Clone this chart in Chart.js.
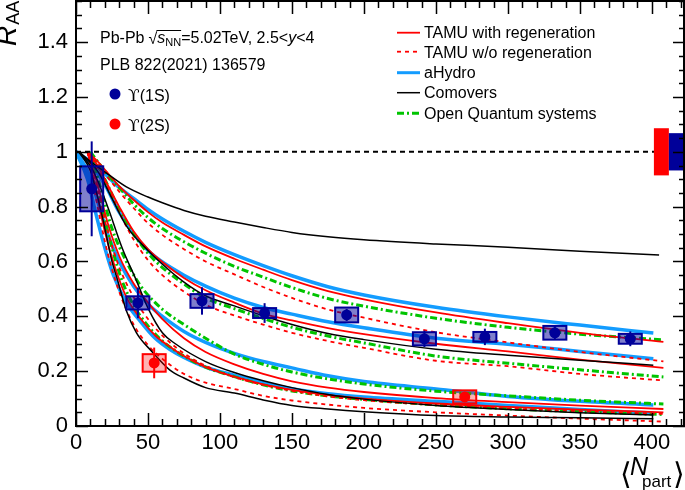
<!DOCTYPE html>
<html><head><meta charset="utf-8">
<script src="https://cdn.jsdelivr.net/npm/chart.js@4.4.0/dist/chart.umd.min.js"></script>
<style>html,body{margin:0;padding:0;background:#fff;}#c{display:block;}</style>
</head><body>
<canvas id="c" width="685" height="490"></canvas>
<script>
// ---------- measured data ----------
const npart1S = [10.9, 43, 87.5, 131, 188, 242, 284, 332.6, 385];
const raa1S   = [0.865, 0.449, 0.456, 0.412, 0.405, 0.318, 0.325, 0.340, 0.318];
const stat1S  = [0.173, 0.056, 0.050, 0.036, 0.022, 0.030, 0.030, 0.025, 0.027];
const syst1S  = [0.082, 0.024, 0.025, 0.018, 0.027, 0.024, 0.018, 0.025, 0.018];
const npart2S = [54.3, 270];
const raa2S   = [0.230, 0.106];
const stat2S  = [0.056, 0.015];
const syst2S  = [0.032, 0.024];
const globalUnc1S = 0.068;
const globalUnc2S = 0.086;

const xTickLabels = [0, 50, 100, 150, 200, 250, 300, 350, 400];
const yTickLabels = [0, 0.2, 0.4, 0.6, 0.8, 1, 1.2, 1.4];

// ---------- model curves [Npart, RAA] ----------
// TAMU with regeneration
const tamuReg1S_hi = [[8,1.0],[15,0.965],[20,0.935],[30,0.875],[40,0.825],[50,0.78],[60,0.742],[75,0.697],[90,0.655],[110,0.61],[130,0.57],[150,0.532],[175,0.492],[200,0.462],[250,0.414],[300,0.375],[350,0.34],[408,0.307]];
const tamuReg1S_lo = [[8,1.0],[15,0.95],[20,0.9],[30,0.8],[40,0.71],[50,0.645],[60,0.598],[75,0.54],[90,0.495],[110,0.45],[130,0.41],[150,0.385],[175,0.357],[200,0.335],[250,0.3],[300,0.272],[350,0.242],[408,0.212]];
const tamuReg2S_hi = [[8,1.0],[15,0.88],[22,0.74],[30,0.62],[40,0.52],[50,0.45],[60,0.39],[75,0.32],[90,0.27],[110,0.225],[130,0.19],[150,0.163],[175,0.14],[200,0.124],[250,0.102],[300,0.087],[350,0.074],[408,0.062]];
const tamuReg2S_lo = [[8,1.0],[14,0.86],[20,0.71],[27,0.58],[35,0.47],[45,0.39],[55,0.33],[65,0.29],[75,0.255],[90,0.215],[110,0.18],[130,0.152],[150,0.132],[175,0.113],[200,0.1],[250,0.082],[300,0.07],[350,0.06],[408,0.05]];
// TAMU without regeneration
const tamuNoReg1S_hi = [[8,1.0],[20,0.92],[30,0.855],[40,0.795],[50,0.74],[60,0.697],[75,0.645],[90,0.6],[110,0.553],[130,0.507],[150,0.467],[175,0.425],[200,0.395],[250,0.342],[300,0.305],[350,0.27],[408,0.236]];
const tamuNoReg1S_lo = [[8,1.0],[20,0.89],[30,0.78],[40,0.68],[50,0.605],[60,0.55],[75,0.49],[90,0.442],[110,0.403],[130,0.37],[150,0.34],[175,0.31],[200,0.285],[250,0.238],[300,0.218],[350,0.19],[408,0.166]];
const tamuNoReg2S_hi = [[8,1.0],[15,0.86],[22,0.71],[30,0.58],[40,0.47],[50,0.39],[60,0.33],[75,0.265],[90,0.22],[110,0.178],[130,0.15],[150,0.128],[175,0.108],[200,0.094],[250,0.076],[300,0.064],[350,0.054],[408,0.044]];
const tamuNoReg2S_lo = [[8,1.0],[15,0.8],[22,0.63],[30,0.49],[40,0.37],[50,0.295],[60,0.245],[75,0.19],[90,0.158],[110,0.135],[130,0.11],[150,0.093],[175,0.078],[200,0.066],[250,0.05],[300,0.038],[350,0.027],[408,0.016]];
// aHydro
const aHydro1S_hi = [[0,1.0],[10,0.965],[20,0.92],[30,0.87],[40,0.83],[50,0.79],[60,0.755],[75,0.71],[90,0.67],[110,0.625],[130,0.585],[150,0.548],[175,0.508],[200,0.478],[250,0.433],[300,0.398],[350,0.368],[401,0.339]];
const aHydro1S_lo = [[0,1.0],[10,0.955],[20,0.88],[30,0.78],[40,0.7],[50,0.64],[60,0.598],[75,0.55],[90,0.51],[110,0.466],[130,0.432],[150,0.408],[175,0.38],[200,0.358],[250,0.32],[300,0.298],[350,0.272],[401,0.245]];
const aHydro2S_hi = [[0,1.0],[8,0.93],[15,0.82],[22,0.7],[30,0.6],[40,0.51],[50,0.445],[60,0.4],[75,0.345],[90,0.305],[110,0.265],[130,0.235],[150,0.212],[175,0.183],[200,0.162],[250,0.135],[300,0.108],[350,0.09],[401,0.077]];
const aHydro2S_lo = [[0,1.0],[8,0.9],[14,0.77],[20,0.65],[26,0.55],[35,0.45],[45,0.38],[55,0.32],[65,0.28],[75,0.25],[90,0.215],[110,0.185],[130,0.158],[150,0.136],[175,0.118],[200,0.106],[250,0.09],[300,0.075],[350,0.06],[401,0.047]];
// Comovers
const comov1S_hi = [[2,1.0],[10,0.965],[20,0.927],[35,0.872],[50,0.835],[60,0.814],[75,0.786],[90,0.765],[110,0.744],[130,0.724],[150,0.706],[175,0.69],[200,0.679],[250,0.664],[300,0.652],[350,0.637],[405,0.624]];
const comov1S_lo = [[2,1.0],[15,0.93],[25,0.83],[35,0.73],[50,0.64],[60,0.59],[75,0.525],[90,0.475],[110,0.438],[130,0.402],[150,0.37],[175,0.337],[200,0.315],[250,0.28],[300,0.258],[350,0.24],[401,0.222]];
const comov2S_hi = [[2,1.0],[12,0.93],[22,0.8],[32,0.65],[42,0.53],[50,0.43],[60,0.34],[69,0.3],[90,0.235],[110,0.195],[130,0.165],[150,0.14],[175,0.115],[200,0.098],[250,0.075],[300,0.06],[350,0.048],[401,0.04]];
const comov2S_lo = [[2,1.0],[10,0.93],[18,0.77],[25,0.6],[29,0.53],[35,0.42],[42,0.34],[53,0.27],[65,0.205],[75,0.175],[90,0.14],[110,0.12],[130,0.095],[150,0.075],[175,0.062],[200,0.052],[250,0.038],[300,0.033],[350,0.03],[401,0.026]];
// Open Quantum systems
const oqs1S_hi = [[10,1.0],[20,0.93],[30,0.87],[40,0.81],[50,0.76],[60,0.72],[75,0.672],[90,0.63],[110,0.582],[130,0.543],[150,0.505],[175,0.465],[200,0.437],[250,0.393],[300,0.36],[350,0.335],[408,0.314]];
const oqs1S_lo = [[10,1.0],[20,0.9],[30,0.79],[40,0.7],[50,0.63],[60,0.578],[75,0.518],[90,0.467],[110,0.428],[130,0.392],[150,0.36],[175,0.328],[200,0.303],[250,0.255],[300,0.229],[350,0.205],[408,0.179]];
const oqs2S_hi = [[10,1.0],[18,0.85],[25,0.72],[35,0.6],[45,0.51],[55,0.45],[65,0.405],[75,0.37],[90,0.32],[110,0.262],[130,0.225],[150,0.197],[175,0.172],[200,0.153],[250,0.127],[300,0.11],[350,0.094],[408,0.08]];
const oqs2S_lo = [[10,1.0],[18,0.8],[25,0.65],[32,0.53],[40,0.44],[50,0.365],[60,0.31],[75,0.255],[90,0.215],[110,0.18],[130,0.15],[150,0.128],[175,0.11],[200,0.097],[250,0.077],[300,0.063],[350,0.052],[408,0.042]];

const unityLine = [[0,1],[423,1]];

// ---------- styles ----------
const FONT = '"Liberation Sans", Arial, Helvetica, sans-serif';
const RED = '#ff0000', BLUE = '#139cff', BLACK = '#000000', GREEN = '#00c400', DKBLUE = '#000099';
const styles = {
  tamuReg:   {color: RED,   width: 1.8, dash: [], order: 2},
  tamuNoReg: {color: RED,   width: 1.8, dash: [4, 4], order: 3},
  aHydro:    {color: BLUE,  width: 3.5, dash: [], order: 6},
  comov:     {color: BLACK, width: 1.5, dash: [], order: 1},
  oqs:       {color: GREEN, width: 3,   dash: [7, 3, 2, 3], order: 4},
};
function ds(arr, st){
  return {data: arr.map(p => ({x: p[0], y: p[1]})), showLine: true, pointRadius: 0,
    borderColor: st.color, borderWidth: st.width, borderDash: st.dash,
    cubicInterpolationMode: 'monotone', order: st.order, fill: false};
}
const datasets = [
  ds(tamuReg1S_hi, styles.tamuReg), ds(tamuReg1S_lo, styles.tamuReg), ds(tamuReg2S_hi, styles.tamuReg), ds(tamuReg2S_lo, styles.tamuReg),
  ds(tamuNoReg1S_hi, styles.tamuNoReg), ds(tamuNoReg1S_lo, styles.tamuNoReg), ds(tamuNoReg2S_hi, styles.tamuNoReg), ds(tamuNoReg2S_lo, styles.tamuNoReg),
  ds(aHydro1S_hi, styles.aHydro), ds(aHydro1S_lo, styles.aHydro), ds(aHydro2S_hi, styles.aHydro), ds(aHydro2S_lo, styles.aHydro),
  ds(comov1S_hi, styles.comov), ds(comov1S_lo, styles.comov), ds(comov2S_hi, styles.comov), ds(comov2S_lo, styles.comov),
  ds(oqs1S_hi, styles.oqs), ds(oqs1S_lo, styles.oqs), ds(oqs2S_hi, styles.oqs), ds(oqs2S_lo, styles.oqs),
  Object.assign(ds(unityLine, {color: BLACK, width: 2, dash: [5, 4], order: 0}), {cubicInterpolationMode: 'default', tension: 0}),
];

// ---------- plugin: data points, frame, ticks, texts ----------
const decor = {
  id: 'decor',
  afterDatasetsDraw(chart){
    const ctx = chart.ctx, xs = chart.scales.x, ys = chart.scales.y;
    const X = v => xs.getPixelForValue(v), Y = v => ys.getPixelForValue(v);
    ctx.save();
    ctx.fillStyle = RED;
    ctx.fillRect(X(401.4), Y(1 + globalUnc2S), X(411.8) - X(401.4), Y(1 - globalUnc2S) - Y(1 + globalUnc2S));
    ctx.fillStyle = DKBLUE;
    ctx.fillRect(X(411.8), Y(1 + globalUnc1S), X(422) - X(411.8), Y(1 - globalUnc1S) - Y(1 + globalUnc1S));
    function drawSet(nx, ry, st, sy, col, fillCol){
      for (let i = 0; i < nx.length; i++){
        const x0 = X(nx[i] - 8), x1 = X(nx[i] + 8);
        const y0 = Y(ry[i] + sy[i]), y1 = Y(ry[i] - sy[i]);
        ctx.fillStyle = fillCol; ctx.fillRect(x0, y0, x1 - x0, y1 - y0);
        ctx.strokeStyle = col; ctx.lineWidth = 2; ctx.setLineDash([]);
        ctx.strokeRect(x0, y0, x1 - x0, y1 - y0);
        ctx.beginPath(); ctx.moveTo(X(nx[i]), Y(ry[i] + st[i])); ctx.lineTo(X(nx[i]), Y(ry[i] - st[i])); ctx.stroke();
        ctx.fillStyle = col; ctx.beginPath(); ctx.arc(X(nx[i]), Y(ry[i]), 5.5, 0, 2 * Math.PI); ctx.fill();
      }
    }
    drawSet(npart1S, raa1S, stat1S, syst1S, DKBLUE, 'rgba(0,0,153,0.5)');
    drawSet(npart2S, raa2S, stat2S, syst2S, RED, 'rgba(255,0,0,0.3)');
    ctx.restore();
  },
  afterDraw(chart){
    const ctx = chart.ctx, xs = chart.scales.x, ys = chart.scales.y, a = chart.chartArea;
    const X = v => xs.getPixelForValue(v), Y = v => ys.getPixelForValue(v);
    ctx.save();
    ctx.strokeStyle = '#000'; ctx.lineWidth = 2; ctx.setLineDash([]);
    ctx.strokeRect(a.left, a.top, a.right - a.left - 1, a.bottom - a.top);
    ctx.lineWidth = 1.5;
    ctx.beginPath();
    for (let k = 0; k <= 31; k++){
      const v = k * 0.05; if (v > 1.55) break;
      const L = (k % 4 === 0) ? 12 : 6, py = Math.round(Y(v)) + 0.5;
      ctx.moveTo(a.left, py); ctx.lineTo(a.left + L, py);
      ctx.moveTo(a.right, py); ctx.lineTo(a.right - L, py);
    }
    for (let k = 0; k <= 42; k++){
      const v = k * 10; const L = (k % 5 === 0) ? 13 : 7, px = Math.round(X(v)) + 0.5;
      ctx.moveTo(px, a.bottom); ctx.lineTo(px, a.bottom - L);
      ctx.moveTo(px, a.top); ctx.lineTo(px, a.top + L);
    }
    ctx.stroke();

    ctx.fillStyle = '#000'; ctx.textBaseline = 'alphabetic'; ctx.textAlign = 'left';
    ctx.save(); ctx.translate(16, 46); ctx.rotate(-Math.PI / 2);
    ctx.font = 'italic 28px ' + FONT; ctx.fillText('R', 0, 0);
    const rw = ctx.measureText('R').width;
    ctx.font = '18px ' + FONT; ctx.fillText('AA', rw + 1, 3);
    ctx.restore();
    ctx.font = '30px "DejaVu Sans"'; ctx.fillText('\u27E8', 620, 484);
    ctx.font = 'italic 25px ' + FONT; ctx.fillText('N', 630, 475);
    ctx.font = '17px ' + FONT; ctx.fillText('part', 642, 487);
    ctx.font = '30px "DejaVu Sans"'; ctx.fillText('\u27E9', 673, 484);

    let x = 100, b = 43;
    ctx.font = '16px ' + FONT; ctx.fillText('Pb-Pb', x, b); x += ctx.measureText('Pb-Pb').width + 4;
    ctx.fillText('\u221A', x, b + 1); const sqx = x; x += ctx.measureText('\u221A').width;
    ctx.font = 'italic 16px ' + FONT; ctx.fillText('s', x, b); x += ctx.measureText('s').width;
    ctx.font = '11px ' + FONT; ctx.fillText('NN', x, b + 3); x += ctx.measureText('NN').width;
    ctx.lineWidth = 1; ctx.beginPath(); ctx.moveTo(sqx + 8, 30.5); ctx.lineTo(x, 30.5); ctx.stroke();
    ctx.font = '16px ' + FONT; ctx.fillText('=5.02TeV, 2.5<', x, b); x += ctx.measureText('=5.02TeV, 2.5<').width;
    ctx.font = 'italic 16px ' + FONT; ctx.fillText('y', x, b); x += ctx.measureText('y').width;
    ctx.font = '16px ' + FONT; ctx.fillText('<4', x, b);
    ctx.fillText('PLB 822(2021) 136579', 100, 70);
    const ml = [[DKBLUE, 94, 101, '(1S)'], [RED, 124, 131, '(2S)']];
    ml.forEach(m => {
      ctx.fillStyle = m[0]; ctx.beginPath(); ctx.arc(115, m[1], 5.5, 0, 2 * Math.PI); ctx.fill();
      ctx.fillStyle = '#000';
      ctx.font = '17px "DejaVu Serif"'; ctx.fillText('\u03D2', 128, m[2]);
      const w = ctx.measureText('\u03D2').width;
      ctx.font = '16px ' + FONT; ctx.fillText(m[3], 128 + w, m[2]);
    });
    const leg = [
      [styles.tamuReg, 'TAMU with regeneration', 32.7, 38],
      [styles.tamuNoReg, 'TAMU w/o regeneration', 51.7, 57.5],
      [styles.aHydro, 'aHydro', 72.7, 78],
      [styles.comov, 'Comovers', 92.7, 98],
      [styles.oqs, 'Open Quantum systems', 113.3, 118.5],
    ];
    leg.forEach(l => {
      const st = l[0];
      ctx.strokeStyle = st.color; ctx.lineWidth = Math.min(st.width, 3); ctx.setLineDash(st.dash);
      ctx.beginPath(); ctx.moveTo(397, l[2]); ctx.lineTo(420, l[2]); ctx.stroke();
      ctx.setLineDash([]);
      ctx.fillStyle = '#000'; ctx.font = '16px ' + FONT; ctx.fillText(l[1], 424, l[3]);
    });
    ctx.restore();
  }
};

function fmt(v){ return String(Math.round(v * 10) / 10); }

new Chart(document.getElementById('c'), {
  type: 'scatter',
  data: {datasets},
  options: {
    responsive: false, animation: false, devicePixelRatio: 1,
    layout: {padding: {top: 1, right: 0, left: 0, bottom: 0}},
    plugins: {legend: {display: false}, tooltip: {enabled: false}},
    scales: {
      x: {type: 'linear', min: 0, max: 423,
        grid: {display: false, drawTicks: false}, border: {display: false},
        ticks: {autoSkip: false, maxRotation: 0, padding: 4, color: '#000',
          font: {family: FONT, size: 22}, callback: v => String(v)},
        afterBuildTicks: s => { s.ticks = xTickLabels.map(v => ({value: v})); },
        afterFit: s => { s.height = 64; s.paddingLeft = 0; s.paddingRight = 0; }},
      y: {type: 'linear', min: 0, max: 1.55,
        grid: {display: false, drawTicks: false}, border: {display: false},
        ticks: {autoSkip: false, padding: 8, color: '#000',
          font: {family: FONT, size: 22}, callback: v => fmt(v)},
        afterBuildTicks: s => { s.ticks = yTickLabels.map(v => ({value: v})); },
        afterFit: s => { s.width = 76; s.paddingTop = 0; s.paddingBottom = 0; }}
    }
  },
  plugins: [decor]
});
</script></body></html>
